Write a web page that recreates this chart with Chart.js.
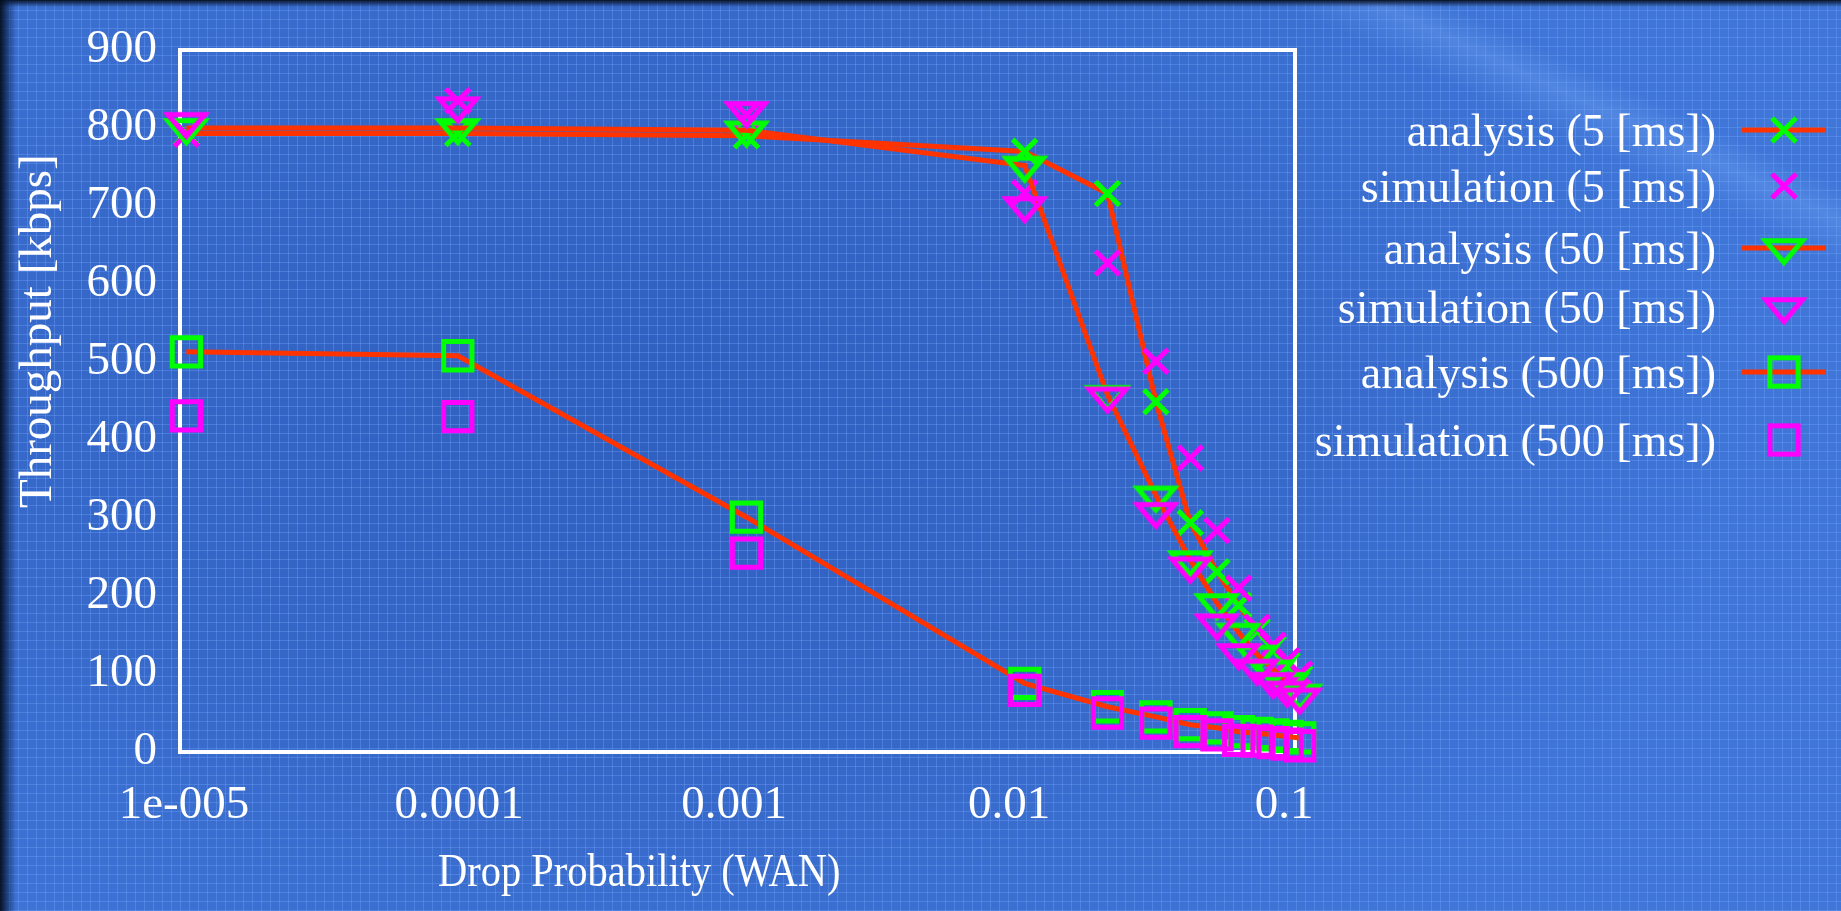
<!DOCTYPE html>
<html lang="en">
<head>
<meta charset="UTF-8">
<title>Throughput vs Drop Probability</title>
<style>
    html, body {
        margin: 0;
        padding: 0;
        overflow: hidden;
        background: #3a6bcc;
    }
    #wrap {
        position: relative;
        width: 1841px;
        height: 911px;
        background-image:
            linear-gradient(90deg, rgba(3, 12, 28, 0.95) 0px, rgba(10, 30, 70, 0.55) 8px, rgba(0, 0, 0, 0) 16px),
            linear-gradient(180deg, rgba(3, 12, 28, 0.95) 0px, rgba(0, 0, 0, 0) 7px),
            linear-gradient(205deg, rgba(0, 0, 0, 0) 0px, rgba(0, 0, 0, 0) 170px, rgba(140, 185, 255, 0.25) 200px, rgba(0, 0, 0, 0) 240px),
            repeating-linear-gradient(0deg, rgba(120, 170, 255, 0.32) 0 1px, rgba(0, 0, 0, 0) 1px 9px),
            repeating-linear-gradient(90deg, rgba(120, 170, 255, 0.32) 0 1px, rgba(0, 0, 0, 0) 1px 9px),
            radial-gradient(ellipse 60% 75% at 35% 45%, #2f5fbf 0%, #3668c9 55%, #3f76d8 100%);
    }
    canvas { display: block; }
</style>
</head>
<body>
<div id="wrap">
    <canvas id="chart" width="1841" height="911"></canvas>
</div>
<script src="https://cdn.jsdelivr.net/npm/chart.js"></script>
<script>
    // drop probability (WAN) at each measured point
    const dropProb = [1.02e-5, 0.99e-4, 1.11e-3, 0.0114, 0.0228, 0.0342, 0.0456, 0.057, 0.0684, 0.0798, 0.0912, 0.1026, 0.114];

    // throughput [kbps]
    const analysis5    = [793, 793, 790, 770, 716, 449, 294, 231, 188, 155, 133, 112, 95];
    const simulation5  = [792, 835, 817, 717, 627, 501, 377, 284, 210, 160, 137, 117, 100];
    const analysis50   = [800, 800, 797, 752, 458, 329, 246, 191, 153, 125, 106, 90, 75];
    const simulation50 = [808, 828, 822, 700, 456, 308, 238, 165, 127, 107, 90, 79, 70];
    const analysis500  = [513, 508, 301, 88, 58, 45, 35, 31, 26, 24, 22, 20, 18];
    const simulation500 = [431, 430, 255, 79, 50, 37, 26, 22, 15, 14, 12, 10, 8];

    const seriesNames = [
        'analysis (5 [ms])', 'simulation (5 [ms])',
        'analysis (50 [ms])', 'simulation (50 [ms])',
        'analysis (500 [ms])', 'simulation (500 [ms])'
    ];

    const xTickValues = [1e-5, 1e-4, 1e-3, 0.01, 0.1];
    const xTickLabels = ['1e-005', '0.0001', '0.001', '0.01', '0.1'];
    const xRange = [0.967e-5, 0.1096];
    const yRange = [0, 900];

    const RED = '#ff3300';
    const GREEN = '#00ff00';
    const MAGENTA = '#ff00ff';
    const FONT = '"Liberation Serif", "Times New Roman", serif';

    // gnuplot style inverted triangle, wider than it is tall
    function downTriangle(color) {
        const w = 37, h = 22, lw = 5;
        const c = document.createElement('canvas');
        c.width = w + 18;
        c.height = Math.ceil(2 * (2 * h / 3 + 6));
        const g = c.getContext('2d');
        const cx = c.width / 2, cy = c.height / 2;
        g.strokeStyle = color;
        g.lineWidth = lw;
        g.lineJoin = 'miter';
        g.beginPath();
        g.moveTo(cx - w / 2, cy - h / 3);
        g.lineTo(cx + w / 2, cy - h / 3);
        g.lineTo(cx, cy + 2 * h / 3);
        g.closePath();
        g.stroke();
        return c;
    }

    const markers = [
        { style: 'crossRot', radius: 17, color: GREEN },
        { style: 'crossRot', radius: 17, color: MAGENTA },
        { style: downTriangle(GREEN), radius: 10, color: GREEN },
        { style: downTriangle(MAGENTA), radius: 10, color: MAGENTA },
        { style: 'rect', radius: 20, color: GREEN },
        { style: 'rect', radius: 20, color: MAGENTA }
    ];
    const seriesValues = [analysis5, simulation5, analysis50, simulation50, analysis500, simulation500];
    const hasLine = [true, false, true, false, true, false];

    const datasets = seriesValues.map((vals, i) => ({
        label: seriesNames[i],
        data: dropProb.map((x, j) => ({ x: x, y: vals[j] })),
        showLine: hasLine[i],
        borderColor: RED,
        borderWidth: 5,
        pointStyle: markers[i].style,
        pointRadius: markers[i].radius,
        pointBorderColor: markers[i].color,
        pointBackgroundColor: 'rgba(0,0,0,0)',
        pointBorderWidth: 5,
        clip: false,
        order: 6 - i
    }));

    // white frame round the plot area, under the data
    const frame = {
        id: 'frame',
        beforeDatasetsDraw(chart) {
            const a = chart.chartArea;
            const ctx = chart.ctx;
            ctx.save();
            ctx.strokeStyle = '#ffffff';
            ctx.lineWidth = 4;
            ctx.strokeRect(a.left, a.top, a.right - a.left, a.bottom - a.top);
            ctx.restore();
        }
    };

    // axis titles, placed where gnuplot put them
    const titles = {
        id: 'titles',
        afterDraw(chart) {
            const ctx = chart.ctx;
            ctx.save();
            ctx.fillStyle = '#ffffff';
            ctx.textAlign = 'left';
            ctx.textBaseline = 'alphabetic';
            ctx.font = '46px ' + FONT;
            ctx.save();
            ctx.translate(438, 886);
            ctx.scale(0.88, 1);   // the original face is narrower
            ctx.fillText('Drop Probability (WAN)', 0, 0);
            ctx.restore();
            ctx.font = '47px ' + FONT;
            ctx.translate(51, 508);
            ctx.rotate(-Math.PI / 2);
            ctx.fillText('Throughput [kbps]', 0, 0);
            ctx.restore();
        }
    };

    // key on the right: text right aligned, sample to its right
    const key = {
        id: 'key',
        afterDraw(chart) {
            const ctx = chart.ctx;
            const rows = [130, 186, 248, 307, 372, 440];
            const textRight = 1716, lineL = 1742, lineR = 1826, mx = 1784;
            ctx.save();
            ctx.font = '46px ' + FONT;
            ctx.textAlign = 'right';
            ctx.textBaseline = 'alphabetic';
            rows.forEach((y, i) => {
                ctx.fillStyle = '#ffffff';
                ctx.fillText(seriesNames[i], textRight, y + 16);
                if (hasLine[i]) {
                    ctx.strokeStyle = RED;
                    ctx.lineWidth = 5;
                    ctx.beginPath();
                    ctx.moveTo(lineL, y);
                    ctx.lineTo(lineR, y);
                    ctx.stroke();
                }
                const m = markers[i];
                ctx.strokeStyle = m.color;
                ctx.lineWidth = 5;
                if (m.style === 'crossRot') {
                    const d = m.radius * Math.SQRT1_2;
                    ctx.beginPath();
                    ctx.moveTo(mx - d, y - d);
                    ctx.lineTo(mx + d, y + d);
                    ctx.moveTo(mx + d, y - d);
                    ctx.lineTo(mx - d, y + d);
                    ctx.stroke();
                } else if (m.style === 'rect') {
                    const s = m.radius * Math.SQRT1_2;
                    ctx.strokeRect(mx - s, y - s, 2 * s, 2 * s);
                } else {
                    ctx.drawImage(m.style, mx - m.style.width / 2, y - m.style.height / 2);
                }
            });
            ctx.restore();
        }
    };

    new Chart(document.getElementById('chart'), {
        type: 'line',
        data: { datasets: datasets },
        options: {
            responsive: false,
            animation: false,
            events: [],
            layout: { padding: { top: 50, right: 546, bottom: 0, left: 0 } },
            plugins: {
                legend: { display: false },
                tooltip: { enabled: false }
            },
            scales: {
                x: {
                    type: 'logarithmic',
                    min: xRange[0],
                    max: xRange[1],
                    bounds: 'data',
                    grid: { display: false, drawTicks: false },
                    border: { display: false },
                    ticks: {
                        color: '#ffffff',
                        font: { family: FONT, size: 47, lineHeight: 1.2 },
                        padding: 25,
                        autoSkip: false,
                        maxRotation: 0,
                        callback: (v, i) => xTickLabels[i]
                    },
                    afterBuildTicks(scale) {
                        scale.ticks = xTickValues.map(v => ({ value: v }));
                    },
                    afterFit(scale) {
                        scale.height = 159;
                        scale.paddingLeft = 0;
                        scale.paddingRight = 0;
                    }
                },
                y: {
                    type: 'linear',
                    min: yRange[0],
                    max: yRange[1],
                    grid: { display: false, drawTicks: false },
                    border: { display: false },
                    ticks: {
                        stepSize: 100,
                        color: '#ffffff',
                        font: { family: FONT, size: 47 },
                        padding: 23
                    },
                    afterFit(scale) {
                        scale.width = 180;
                        scale.paddingTop = 0;
                        scale.paddingBottom = 0;
                    }
                }
            }
        },
        plugins: [frame, titles, key]
    });
</script>
</body>
</html>
